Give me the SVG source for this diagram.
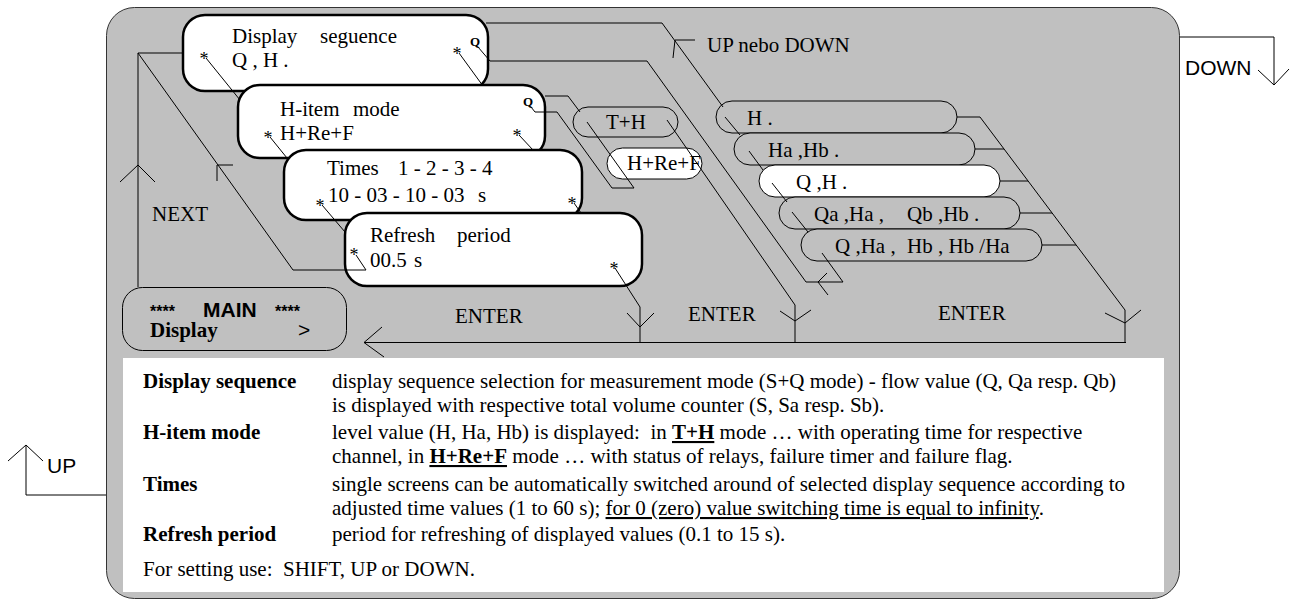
<svg xmlns="http://www.w3.org/2000/svg" width="1294" height="601" viewBox="0 0 1294 601" xml:space="preserve">
<style>
text{white-space:pre}
.t{font-family:"Liberation Serif","Times New Roman",serif;font-size:21px;fill:#000}
.b{font-weight:bold}
.sn{font-family:"Liberation Sans",Arial,sans-serif}
.ast{font-family:"Liberation Serif","Times New Roman",serif;font-size:18px;text-anchor:middle;fill:#000}
.q{font-family:"Liberation Serif","Times New Roman",serif;font-size:13px;font-weight:bold;fill:#000}
.ln{fill:none;stroke:#000;stroke-width:1}
.box{fill:#fff;stroke:#000;stroke-width:2.5}
.pill{fill:#c0c0c0;stroke:#000;stroke-width:1}
.pw{fill:#fff;stroke:#000;stroke-width:1}
.u{text-decoration:underline}
</style>
<rect width="1294" height="601" fill="#fff"/>
<g id="panel">
<rect x="106.5" y="7.5" width="1073" height="591" rx="28" fill="#c0c0c0" stroke="#333" stroke-width="1"/>
<rect x="123" y="358" width="1041" height="234" fill="#fff"/>
</g>
<g id="node-display">
<rect class="box" x="183" y="15" width="305" height="76" rx="22"/>
<text class="t"><tspan x="232" y="43">Display</tspan><tspan x="320" y="43">seguence</tspan></text>
<text class="t" x="232" y="67">Q , H .</text>
<text class="ast" x="204" y="65">*</text>
<text class="ast" x="457" y="60">*</text>
<text class="q" x="470" y="46">Q</text>
</g>
<g id="node-hitem">
<rect class="box" x="238" y="85" width="307" height="73" rx="22"/>
<text class="t"><tspan x="280" y="116">H-item</tspan><tspan x="353" y="116">mode</tspan></text>
<text class="t" x="280" y="140">H+Re+F</text>
<text class="ast" x="268" y="144">*</text>
<text class="ast" x="517" y="142">*</text>
<text class="q" x="523" y="106">Q</text>
</g>
<g id="node-times">
<rect class="box" x="284" y="150" width="298" height="70" rx="22"/>
<text class="t"><tspan x="327" y="175">Times</tspan><tspan x="398" y="175">1 - 2 - 3 - 4</tspan></text>
<text class="t"><tspan x="328" y="202">10 - 03 - 10 - 03</tspan><tspan x="478" y="202">s</tspan></text>
<text class="ast" x="320" y="212">*</text>
<text class="ast" x="572" y="210">*</text>
</g>
<g id="node-refresh">
<rect class="box" x="345" y="213" width="297" height="73" rx="22"/>
<text class="t"><tspan x="370" y="242">Refresh</tspan><tspan x="457" y="242">period</tspan></text>
<text class="t"><tspan x="370" y="267">00.5</tspan><tspan x="414" y="267">s</tspan></text>
<text class="ast" x="354" y="261">*</text>
<text class="ast" x="614" y="275">*</text>
</g>
<g id="node-main">
<rect x="122.5" y="287.5" width="224" height="63" rx="20" fill="#c0c0c0" stroke="#000" stroke-width="1"/>
<text class="t sn b" font-size="20"><tspan x="150" y="317" font-size="16">****</tspan><tspan x="203" y="317">MAIN</tspan><tspan x="275" y="317" font-size="16">****</tspan></text>
<text class="t b" x="150" y="337" font-size="20">Display</text>
<text class="t sn" x="298" y="337" font-size="20">&gt;</text>
</g>
<g id="node-th">
<rect class="pill" x="573" y="107" width="105" height="30" rx="15"/>
<text class="t" x="606" y="129" font-size="18">T+H</text>
</g>
<g id="node-hrf">
<rect class="pw" x="607" y="148" width="95" height="31" rx="15.5"/>
<text class="t" x="627" y="170" font-size="18">H+Re+F</text>
</g>
<g id="node-opt1">
<rect class="pill" x="716" y="101" width="241" height="32" rx="16"/>
<text class="t" x="747" y="124.5">H .</text>
</g>
<g id="node-opt2">
<rect class="pill" x="734" y="133" width="241" height="32" rx="16"/>
<text class="t" x="768" y="156.5">Ha ,Hb .</text>
</g>
<g id="node-opt3">
<rect class="pw" x="759" y="165" width="241" height="32" rx="16"/>
<text class="t" x="796" y="188.5">Q ,H .</text>
</g>
<g id="node-opt4">
<rect class="pill" x="779" y="197" width="241" height="32" rx="16"/>
<text class="t"><tspan x="814" y="220.5">Qa ,Ha ,</tspan><tspan x="907" y="220.5">Qb ,Hb .</tspan></text>
</g>
<g id="node-opt5">
<rect class="pill" x="801" y="229" width="241" height="32" rx="16"/>
<text class="t"><tspan x="835" y="252.5">Q ,Ha ,</tspan><tspan x="907" y="252.5">Hb , Hb /Ha</tspan></text>
</g>
<g id="connectors" class="ln">
<polyline points="486,23 662,23 723,107"/>
<polyline points="695,40 675,40 673,58"/>
<polyline points="478,47 490,61 647,61 806,282 843,282"/>
<polyline points="827,273 818,282 828,295"/>
<line x1="725" y1="117" x2="740" y2="135"/>
<line x1="749" y1="151" x2="763" y2="170"/>
<line x1="772" y1="183" x2="787" y2="202"/>
<line x1="792" y1="212" x2="808" y2="232"/>
<line x1="822" y1="253" x2="843" y2="282"/>
<polyline points="957,117 980,117 1125,310 1125,343"/>
<line x1="975" y1="149" x2="1004" y2="149"/>
<line x1="1000" y1="181" x2="1028" y2="181"/>
<line x1="1020" y1="213" x2="1052" y2="213"/>
<line x1="1042" y1="245" x2="1076" y2="245"/>
<polyline points="1105,313 1125,323 1141,310"/>
<polyline points="545,96 568,96 580,112"/>
<polyline points="531,107 535,112 557,112 612,188 634,188"/>
<line x1="587" y1="122" x2="634" y2="188"/>
<polyline points="667,120 795,305 795,343"/>
<polyline points="780,311 795,321 811,310"/>
<polyline points="615,268 640,307 640,343"/>
<polyline points="627,313 640,327 654,313"/>
<line x1="364" y1="342.5" x2="1126" y2="342.5"/>
<polyline points="382,327 364,342.5 384,357"/>
<polyline points="183,53 138,53 138,287"/>
<polyline points="138,53 293,270 366,270"/>
<polyline points="120,182 138,165 155,182"/>
<polyline points="233,165 217,165 217,181"/>
<line x1="206" y1="58" x2="240" y2="100"/>
<line x1="459" y1="53" x2="483" y2="86"/>
<line x1="270" y1="137" x2="287" y2="158"/>
<line x1="519" y1="135" x2="533" y2="150"/>
<line x1="322" y1="205" x2="345" y2="232"/>
<line x1="574" y1="203" x2="581" y2="213"/>
<line x1="356" y1="255" x2="366" y2="270"/>
<polyline points="106,495 26,495 26,445"/>
<polyline points="8,461 26,445 43,461"/>
<polyline points="1180,37 1274,37 1274,85"/>
<polyline points="1258,70 1274,85 1289,69"/>
</g>
<g id="labels">
<text class="t" x="152" y="221">NEXT</text>
<text class="t" x="707" y="52">UP nebo DOWN</text>
<text class="t" x="455" y="323">ENTER</text>
<text class="t" x="688" y="321">ENTER</text>
<text class="t" x="938" y="320">ENTER</text>
<text class="t sn" x="1185" y="75">DOWN</text>
<text class="t sn" x="47" y="473">UP</text>
</g>
<g id="legend">
<text class="t b" x="143" y="388">Display sequence</text>
<text class="t" x="332" y="388">display sequence selection for measurement mode (S+Q mode) - flow value (Q, Qa resp. Qb)</text>
<text class="t" x="332" y="412">is displayed with respective total volume counter (S, Sa resp. Sb).</text>
<text class="t b" x="143" y="439">H-item mode</text>
<text class="t" x="332" y="439">level value (H, Ha, Hb) is displayed:  in <tspan class="b u">T+H</tspan> mode … with operating time for respective</text>
<text class="t" x="332" y="463">channel, in <tspan class="b u">H+Re+F</tspan> mode … with status of relays, failure timer and failure flag.</text>
<text class="t b" x="143" y="491">Times</text>
<text class="t" x="332" y="491">single screens can be automatically switched around of selected display sequence according to</text>
<text class="t" x="332" y="515">adjusted time values (1 to 60 s); <tspan class="u">for 0 (zero) value switching time is equal to infinity</tspan>.</text>
<text class="t b" x="143" y="541">Refresh period</text>
<text class="t" x="332" y="541">period for refreshing of displayed values (0.1 to 15 s).</text>
<text class="t" x="143" y="576" font-size="18.5">For setting use:  SHIFT, UP or DOWN.</text>
</g>
</svg>
